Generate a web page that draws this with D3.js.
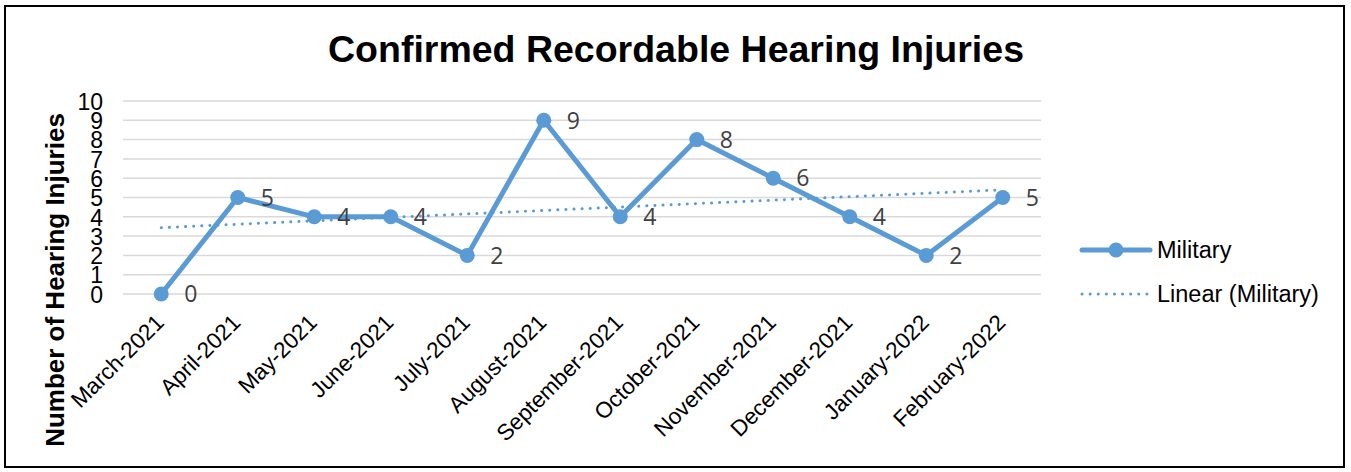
<!DOCTYPE html>
<html><head><meta charset="utf-8">
<script src="https://cdn.jsdelivr.net/npm/d3@7"></script>
<style>body{margin:0;background:#fff}svg{display:block}</style>
</head><body>
<svg id="c" width="1351" height="472"></svg>
<script>
const categories = ["March-2021","April-2021","May-2021","June-2021","July-2021","August-2021","September-2021","October-2021","November-2021","December-2021","January-2022","February-2022"];
const military = [0,5,4,4,2,9,4,8,6,4,2,5];
const yTicks = [0,1,2,3,4,5,6,7,8,9,10];
const title = "Confirmed Recordable Hearing Injuries";
const yTitle = "Number of Hearing Injuries";
const seriesName = "Military";
const trendName = "Linear (Military)";

const svg = d3.select("#c");
const color = "#5B9BD5";
const sans = "Liberation Sans, Arial, sans-serif";

svg.append("rect").attr("x",5).attr("y",6).attr("width",1339).attr("height",461)
  .attr("fill","#fff").attr("stroke","#000").attr("stroke-width",2);

const x = d3.scaleBand().domain(categories).range([123,1041]);
const y = d3.scaleLinear().domain([0,10]).range([294,101]);
const cx = d => x(d) + x.bandwidth()/2;

// gridlines
svg.append("g").selectAll("line").data(yTicks).join("line")
  .attr("x1",123).attr("x2",1041).attr("y1",d=>y(d)).attr("y2",d=>y(d))
  .attr("stroke","#d9d9d9").attr("stroke-width",1.5);

// y axis labels
const yAxis = d3.axisLeft(y).tickValues(yTicks).tickSize(0).tickPadding(0);
const gy = svg.append("g").attr("transform","translate(103,0)").call(yAxis);
gy.select(".domain").remove();
gy.selectAll("text").attr("font-family",sans).attr("font-size",23).attr("fill","#000").attr("dy","0.36em");

// x axis labels
const xAxis = d3.axisBottom(x).tickSize(0).tickPadding(0);
const gx = svg.append("g").attr("transform","translate(0,300)").call(xAxis);
gx.select(".domain").remove();
gx.selectAll("text").attr("font-family",sans).attr("font-size",22.5).attr("fill","#000")
  .attr("text-anchor","end").attr("dy",0).attr("y",0)
  .attr("transform","translate(4,24) rotate(-45)");

// trendline (least squares from data)
const n = military.length;
const mx = d3.mean(d3.range(n)), my = d3.mean(military);
const sxy = d3.sum(military,(v,i)=>(i-mx)*(v-my));
const sxx = d3.sum(d3.range(n),i=>(i-mx)*(i-mx));
const slope = sxy/sxx, icpt = my - slope*mx;
svg.append("line")
  .attr("x1",cx(categories[0])).attr("y1",y(icpt))
  .attr("x2",cx(categories[n-1])).attr("y2",y(icpt+slope*(n-1)))
  .attr("stroke",color).attr("stroke-width",3).attr("stroke-dasharray","0.1 8").attr("stroke-linecap","round");

// line
const line = d3.line().x((d,i)=>cx(categories[i])).y(d=>y(d));
svg.append("path").datum(military).attr("d",line).attr("fill","none")
  .attr("stroke",color).attr("stroke-width",5).attr("stroke-linejoin","round");

svg.append("g").selectAll("circle").data(military).join("circle")
  .attr("cx",(d,i)=>cx(categories[i])).attr("cy",d=>y(d)).attr("r",7.5).attr("fill",color);

// data labels
svg.append("g").selectAll("text").data(military).join("text")
  .attr("x",(d,i)=>cx(categories[i])+23).attr("y",d=>y(d)).attr("dy","0.36em")
  .attr("font-family","Open Sans, sans-serif").attr("font-size",23).attr("fill","#404040")
  .text(d=>d);

// title
svg.append("text").attr("x",676).attr("y",62).attr("text-anchor","middle")
  .attr("font-family",sans).attr("font-weight","bold").attr("font-size",37.5)
  .text(title);

// y title
svg.append("text").attr("transform","translate(64,280) rotate(-90)").attr("text-anchor","middle")
  .attr("font-family",sans).attr("font-weight","bold").attr("font-size",26)
  .text(yTitle);

// legend
const lg = svg.append("g");
lg.append("line").attr("x1",1082).attr("x2",1150).attr("y1",250).attr("y2",250)
  .attr("stroke",color).attr("stroke-width",5).attr("stroke-linecap","round");
lg.append("circle").attr("cx",1116).attr("cy",250).attr("r",7.5).attr("fill",color);
lg.append("text").attr("x",1157).attr("y",258).attr("font-family",sans).attr("font-size",23.5).text(seriesName);
lg.append("line").attr("x1",1082).attr("x2",1150).attr("y1",294).attr("y2",294)
  .attr("stroke",color).attr("stroke-width",3).attr("stroke-dasharray","0.1 8").attr("stroke-linecap","round");
lg.append("text").attr("x",1157).attr("y",302).attr("font-family",sans).attr("font-size",23.5).text(trendName);
</script>
</body></html>
